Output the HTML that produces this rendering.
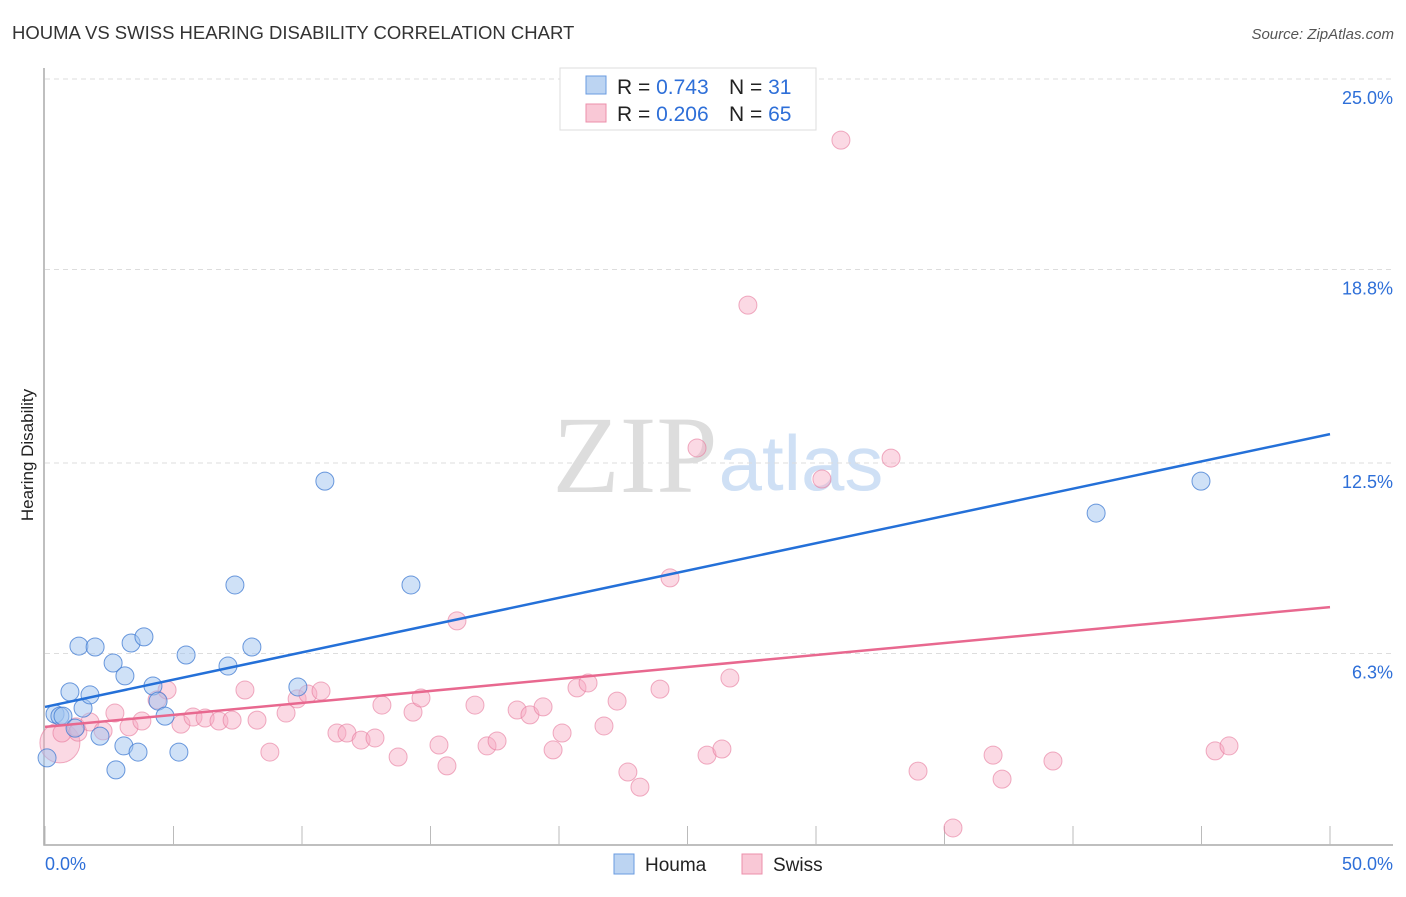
<!DOCTYPE html>
<html><head><meta charset="utf-8"><style>
body{margin:0;background:#fff;font-family:"Liberation Sans",sans-serif;}
</style></head><body>
<svg id="c" width="1406" height="892" xmlns="http://www.w3.org/2000/svg">
<text x="12" y="39" font-size="18.5" fill="#333">HOUMA VS SWISS HEARING DISABILITY CORRELATION CHART</text>
<text x="1394" y="39" font-size="15" fill="#555" font-style="italic" text-anchor="end">Source: ZipAtlas.com</text>
<text x="635" y="492" font-size="110" fill="#ddd" font-family="Liberation Serif,serif" text-anchor="middle">ZIP</text>
<text x="801" y="490" font-size="78" fill="#cfe0f5" text-anchor="middle">atlas</text>
<text transform="translate(33,455) rotate(-90)" font-size="17" fill="#222" text-anchor="middle">Hearing Disability</text>
<g id="grid"></g><g id="marks"></g>
<g>
<rect x="560" y="68" width="256" height="62" fill="#fff" stroke="#ddd"/>
<rect x="586" y="76" width="20" height="18" fill="#bcd4f2" stroke="#6a9be0"/>
<rect x="586" y="104" width="20" height="18" fill="#f9c8d6" stroke="#ec8fab"/>
<text x="617" y="94" font-size="21" fill="#222">R = <tspan fill="#2e6fd8">0.743</tspan></text>
<text x="729" y="94" font-size="21" fill="#222">N = <tspan fill="#2e6fd8"> 31</tspan></text>
<text x="617" y="121" font-size="21" fill="#222">R = <tspan fill="#2e6fd8">0.206</tspan></text>
<text x="729" y="121" font-size="21" fill="#222">N = <tspan fill="#2e6fd8">65</tspan></text>
</g>
<g>
<rect x="614" y="854" width="20" height="20" fill="#bcd4f2" stroke="#6a9be0"/>
<text x="645" y="871" font-size="19" fill="#222">Houma</text>
<rect x="742" y="854" width="20" height="20" fill="#f9c8d6" stroke="#ec8fab"/>
<text x="773" y="871" font-size="19" fill="#222">Swiss</text>
</g>
</svg>
<script>
const yTicks=[6.3,12.5,18.8,25.0];
const xLabels=["0.0%","50.0%"];
const houmaX=[0.08,0.39,0.58,0.70,0.97,1.17,1.48,1.75,1.32,1.95,2.14,2.65,2.76,3.07,3.11,3.35,3.62,3.85,4.20,4.40,4.67,5.21,5.49,7.12,7.39,8.05,9.84,10.89,14.24,40.90,44.98];
const houmaY=[2.90,4.33,4.26,4.26,5.05,3.87,4.52,4.95,6.54,6.51,3.61,5.99,2.51,3.29,5.57,6.64,3.09,6.84,5.24,4.75,4.26,3.09,6.25,5.89,8.53,6.51,5.21,11.91,8.53,10.87,11.91];
const swissX=[0.58,0.66,1.21,1.28,1.75,2.26,2.72,3.27,3.77,4.36,4.75,5.29,5.76,6.23,6.77,7.28,7.78,8.25,8.75,9.38,9.81,10.23,10.74,11.36,11.75,12.30,12.84,13.11,13.74,14.32,14.63,15.33,15.64,16.03,16.73,17.20,17.59,18.37,18.87,19.38,19.77,20.12,20.70,21.13,21.75,22.26,22.68,23.15,23.93,24.32,25.37,25.76,26.34,26.65,27.35,30.23,30.97,32.92,33.97,35.33,36.89,37.24,39.22,45.53,46.07];
const swissY=[3.39,3.71,3.91,3.74,4.07,3.78,4.36,3.91,4.10,4.79,5.11,4.00,4.23,4.20,4.10,4.13,5.11,4.13,3.09,4.36,4.82,4.98,5.08,3.71,3.71,3.48,3.55,4.62,2.93,4.39,4.85,3.32,2.64,7.36,4.62,3.29,3.45,4.46,4.30,4.56,3.16,3.71,5.18,5.34,3.94,4.75,2.44,1.95,5.14,8.76,12.99,2.99,3.19,5.50,17.64,11.98,23.01,12.66,2.47,0.62,2.99,2.21,2.80,3.13,3.29];
const houmaTrend=[4.56,13.44];
const swissTrend=[3.91,7.81];
const NS="http://www.w3.org/2000/svg";
const X=v=>45+v*25.7, Y=v=>847-v*30.72;
function mk(t,a,p){const e=document.createElementNS(NS,t);for(const k in a)e.setAttribute(k,a[k]);p.appendChild(e);return e;}
const g=document.getElementById('grid'),m=document.getElementById('marks');
yTicks.forEach(t=>{const l=mk('line',{x1:45,x2:1393,y1:Y(t),y2:Y(t),stroke:'#ddd','stroke-dasharray':'5,4'},g);


const tx=mk('text',{x:1393,y:Y(t)+25,'font-size':18,fill:'#2e6fd8','text-anchor':'end'},g);tx.textContent=t.toFixed(1)+'%';

});
const ax=mk('path',{d:'M44 68V845H1393',stroke:'#aaa',fill:'none','stroke-width':1.5},g);


for(let i=0;i<=10;i++){const tk=mk('line',{x1:X(i*5),x2:X(i*5),y1:826,y2:845,stroke:'#bbb'},g);

}
xLabels.forEach((s,i)=>{const tx=mk('text',{x:i?1393:45,y:870,'font-size':18,fill:'#2e6fd8','text-anchor':i?'end':'start'},g);tx.textContent=s;

});
swissX.forEach((x,i)=>{const c=mk('circle',{cx:X(x),cy:Y(swissY[i]),r:i==0?20:9,fill:'rgba(246,170,195,0.45)',stroke:'rgba(230,120,155,0.6)'},m);

});
houmaX.forEach((x,i)=>{const c=mk('circle',{cx:X(x),cy:Y(houmaY[i]),r:9,fill:'rgba(160,195,240,0.5)',stroke:'rgba(60,120,210,0.75)'},m);

});
const tb=mk('line',{x1:X(0),x2:X(50),y1:Y(houmaTrend[0]),y2:Y(houmaTrend[1]),stroke:'#2470d8','stroke-width':2.5},m);


const tp=mk('line',{x1:X(0),x2:X(50),y1:Y(swissTrend[0]),y2:Y(swissTrend[1]),stroke:'#e8688f','stroke-width':2.5},m);


</script>
</body></html>
